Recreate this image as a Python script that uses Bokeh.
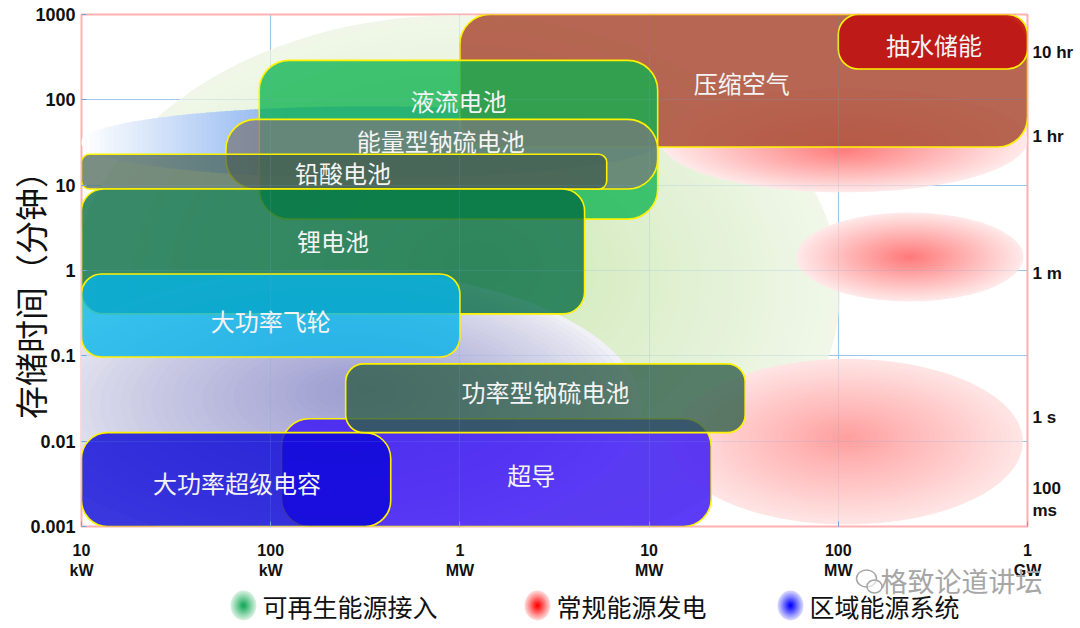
import numpy as np
from bokeh.plotting import figure
from bokeh.models import (Range1d, FixedTicker, CustomJSTickFormatter, LogAxis,
                          Grid, ColumnDataSource)
from bokeh.layouts import column
from bokeh.core.properties import value
from bokeh.embed import file_html
from bokeh.resources import INLINE

# ---------------- data ----------------
techs = ["压缩空气", "抽水储能", "液流电池", "能量型钠硫电池", "铅酸电池",
         "锂电池", "大功率飞轮", "超导", "大功率超级电容", "功率型钠硫电池"]
power_min_kw = [1000, 100000, 87, 58, 10, 10, 10, 114, 10, 249]
power_max_kw = [1e6, 1e6, 11100, 11100, 5970, 4560, 1000, 21300, 431, 32200]
time_min_minutes = [28, 230, 4.0, 9.0, 9.0, 0.31, 0.097, 0.001, 0.001, 0.0126]
time_max_minutes = [1000, 1000, 290, 59, 23, 9.0, 0.91, 0.0183, 0.0126, 0.0805]

# application zones (background blobs): centre and half extents in decades
zone_names = ["可再生能源接入", "区域能源系统", "区域能源系统",
              "常规能源发电", "常规能源发电", "常规能源发电"]
zone_center_kw = [955, 334, 205, 1.07e5, 2.39e5, 1.11e5]
zone_center_min = [0.59, 31.8, 0.0233, 33.6, 1.44, 0.00986]
zone_half_width_dec = [2.03, 1.53, 1.65, 0.97, 0.60, 0.93]
zone_half_height_dec = [3.22, 0.42, 1.64, 0.61, 0.52, 0.97]

legend_labels = ["可再生能源接入", "常规能源发电", "区域能源系统"]

x_tick_values = [10, 100, 1000, 1e4, 1e5, 1e6]
x_tick_labels = ["10\nkW", "100\nkW", "1\nMW", "10\nMW", "100\nMW", "1\nGW"]
y_tick_values = [0.001, 0.01, 0.1, 1, 10, 100, 1000]
y_tick_labels = ["0.001", "0.01", "0.1", "1", "10", "100", "1000"]
right_tick_labels = ["10 hr", "1 hr", "1 m", "1 s", "100\nms"]
right_tick_values = [10**2.556, 10**1.573, 10**-0.041, 10**-1.725, 10**-2.684]

y_axis_title = "存储时间（分钟）"
watermark = "格致论道讲坛"

# ---------------- styles ----------------
CJK = "Noto Sans CJK SC"
rect_colors = ["#AE5540", "#BF1412", "#0BB24E", "#79787C", "#3C5849",
               "#006841", "#05B4E9", "#401AF4", "#0A05D7", "#315F4A"]
rect_alpha = [0.90, 0.92, 0.77, 0.75, 0.68, 0.77, 0.79, 0.85, 0.80, 0.80]
rect_radius = [30, 20, 30, 30, 8, 22, 20, 28, 26, 18]
label_dx = [-2, 1, 0, -1, -1, 0, 0, 35, 1, 0]
label_dy = [2, 3, -39, -14, 1, -11, 5, 2, 3, -7]

zone_style = [
    # kind, edge colour, centre colour, focal fx, fy (fractions of radii), profile exponent
    ("radial", (240, 247, 233), (205, 232, 180), 0.06, 0.10, 1.0),
    ("linear", (255, 255, 255), (140, 180, 240), 0.0, 0.0, 1.0),
    ("radial", (240, 240, 246), (156, 156, 208), 0.12, 0.15, 0.8),
    ("radial", (255, 232, 232), (255, 126, 126), 0.0, -0.2, 1.0),
    ("radial", (255, 232, 232), (255, 122, 122), 0.0, 0.0, 1.0),
    ("radial", (255, 228, 228), (255, 160, 160), 0.0, 0.05, 1.0),
]


def hexc(c):
    return "#%02x%02x%02x" % tuple(int(round(v)) for v in c)


def lerp(a, b, t):
    return tuple(a[i] + (b[i] - a[i]) * t for i in range(3))


p = figure(width=1080, height=582, x_axis_type="log", y_axis_type="log",
           x_range=Range1d(10, 1e6), y_range=Range1d(1e-3, 1e3),
           toolbar_location=None, output_backend="svg", title=None,
           min_border_left=81, min_border_right=53, min_border_top=14,
           min_border_bottom=56)
p.background_fill_color = "white"
p.border_fill_color = "white"
p.outline_line_color = "#FFB0B0"
p.outline_line_width = 2

p.xgrid.ticker = FixedTicker(ticks=[100, 1e3, 1e4, 1e5])
p.ygrid.ticker = FixedTicker(ticks=[0.01, 0.1, 1, 10, 100])
p.grid.grid_line_color = "#A6CDEE"
p.grid.grid_line_width = 1.2

# ---- background zones ----
t = np.linspace(0, 2 * np.pi, 120)
for i in range(len(zone_names)):
    cxl = np.log10(zone_center_kw[i])
    cyl = np.log10(zone_center_min[i])
    rx = zone_half_width_dec[i]
    ry = zone_half_height_dec[i]
    kind, ce, cc, fx, fy, gam = zone_style[i]
    xs, ys, cols = [], [], []
    if kind == "radial":
        n = 34
        for k in range(n):
            s = 1 - k / n
            ccx = cxl + fx * rx * (1 - s)
            ccy = cyl + fy * ry * (1 - s)
            xs.append(list(10 ** (ccx + s * rx * np.cos(t))))
            ys.append(list(10 ** (ccy + s * ry * np.sin(t))))
            cols.append(hexc(lerp(ce, cc, (k / (n - 1)) ** gam)))
    else:
        n = 120
        edges = np.linspace(cxl - rx, cxl + rx, n + 1)
        step = edges[1] - edges[0]
        for k in range(n):
            xa = edges[k]
            xb = min(edges[k + 1] + 0.5 * step, cxl + rx)
            xx = np.linspace(xa, xb, 4)
            h = ry * np.sqrt(np.clip(1 - ((xx - cxl) / rx) ** 2, 0, None))
            px = np.concatenate([xx, xx[::-1]])
            py = np.concatenate([cyl + h, (cyl - h)[::-1]])
            xs.append(list(10 ** px))
            ys.append(list(10 ** py))
            f = min(1.0, (k / (n - 1)) / 0.35)
            cols.append(hexc(lerp(ce, cc, f)))
    p.patches(xs=xs, ys=ys, fill_color=cols, line_color=None)

# faint overlay grid (visible through shapes)
for dim, tk in [(0, [100, 1e3, 1e4, 1e5]), (1, [0.01, 0.1, 1, 10, 100])]:
    g = Grid(dimension=dim, ticker=FixedTicker(ticks=tk), grid_line_color="#6FA8DC",
             grid_line_alpha=0.18, grid_line_width=1, level="overlay")
    p.add_layout(g)

# ---- technology boxes ----
for i in range(len(techs)):
    p.quad(left=[power_min_kw[i]], right=[power_max_kw[i]],
           bottom=[time_min_minutes[i]], top=[time_max_minutes[i]],
           fill_color=rect_colors[i], fill_alpha=rect_alpha[i],
           line_color="#FFF200", line_width=1.6, border_radius=rect_radius[i])

lab_src = ColumnDataSource(dict(
    x=[np.sqrt(a * b) for a, b in zip(power_min_kw, power_max_kw)],
    y=[np.sqrt(a * b) for a, b in zip(time_min_minutes, time_max_minutes)],
    text=techs, dx=label_dx, dy=label_dy))
p.text(x="x", y="y", text="text", x_offset="dx", y_offset="dy", source=lab_src,
       text_font=value(CJK), text_font_size="24px", text_color="#F4F4F4",
       text_align="center", text_baseline="middle")

# ---- axes ----
fmt_code = """
for (let i = 0; i < vals.length; i++) {
  if (Math.abs(Math.log10(tick) - Math.log10(vals[i])) < 1e-4) return labels[i];
}
return '';
"""
p.xaxis.ticker = FixedTicker(ticks=x_tick_values)
p.xaxis.formatter = CustomJSTickFormatter(args=dict(vals=x_tick_values, labels=x_tick_labels), code=fmt_code)
p.yaxis.ticker = FixedTicker(ticks=y_tick_values)
p.yaxis.formatter = CustomJSTickFormatter(args=dict(vals=y_tick_values, labels=y_tick_labels), code=fmt_code)
for ax in (p.xaxis, p.yaxis):
    ax.axis_line_color = None
    ax.minor_tick_line_color = None
    ax.major_tick_in = 5
    ax.major_tick_out = 0
    ax.major_tick_line_color = "#6FA8DC"
    ax.major_label_text_font = "Liberation Sans"
    ax.major_label_text_font_style = "bold"
    ax.major_label_text_color = "#111111"
p.xaxis.major_label_text_font_size = "16px"
p.xaxis.major_label_standoff = 15
p.yaxis.major_label_text_font_size = "18px"
p.yaxis.major_label_standoff = 6
p.yaxis.axis_label = y_axis_title + "\u3000\u2002"
p.yaxis.axis_label_text_font = CJK
p.yaxis.axis_label_text_font_style = "normal"
p.yaxis.axis_label_text_font_size = "33px"
p.yaxis.axis_label_text_color = "#111111"
p.yaxis.axis_label_standoff = -27

ra = LogAxis(ticker=FixedTicker(ticks=right_tick_values),
             formatter=CustomJSTickFormatter(args=dict(vals=right_tick_values, labels=right_tick_labels), code=fmt_code))
ra.axis_line_color = None
ra.major_tick_line_color = None
ra.major_tick_out = 0
ra.major_tick_in = 0
ra.minor_tick_line_color = None
ra.major_label_standoff = 5
ra.major_label_text_font = "Liberation Sans"
ra.major_label_text_font_style = "bold"
ra.major_label_text_font_size = "17px"
ra.major_label_text_color = "#111111"
p.add_layout(ra, "right")

# ---------------- legend strip (overlaps the bottom border, transparent) ----------------
LEG_H = 70
leg = figure(width=1080, height=LEG_H, x_range=Range1d(0, 1080), y_range=Range1d(0, LEG_H),
             toolbar_location=None, output_backend="svg", min_border=0,
             x_axis_location=None, y_axis_location=None, title=None)
leg.frame_align = False
p.frame_align = False
leg.margin = (-24, 0, 0, 0)
leg.grid.visible = False
leg.outline_line_color = None
leg.background_fill_alpha = 0
leg.border_fill_alpha = 0

leg_cx = [243, 537, 790]
leg_y = 23
leg_center_col = [(20, 168, 88), (255, 0, 0), (0, 0, 255)]
leg_edge_col = [(214, 240, 222), (255, 216, 216), (214, 214, 255)]
for j in range(len(legend_labels)):
    n = 14
    ws, hs, cs = [], [], []
    for k in range(n):
        s = 1 - k / n
        ws.append(26 * s)
        hs.append(30 * s)
        cs.append(hexc(lerp(leg_edge_col[j], leg_center_col[j], k / (n - 1))))
    leg.ellipse(x=[leg_cx[j]] * n, y=[leg_y] * n, width=ws, height=hs,
                width_units="screen", height_units="screen",
                fill_color=cs, line_color=None)
leg.text(x=[c + 19 for c in leg_cx], y=[leg_y] * 3, text=legend_labels,
         text_font=value(CJK), text_font_size="25px", text_color="#111111",
         text_align="left", text_baseline="middle")

# watermark (speech-bubble icon + text)
leg.ellipse(x=[866, 874], y=[50, 42], width=[20, 15], height=[17, 13],
            width_units="screen", height_units="screen",
            fill_color="white", fill_alpha=0.6, line_color="#A6A6A6", line_width=1.5)
leg.text(x=[880], y=[48], text=[watermark], text_font=value(CJK),
         text_font_size="27px", text_color="#A6A6A6", text_align="left",
         text_baseline="middle")

layout = column(p, leg, spacing=0)
open("out.html", "w").write(file_html(layout, INLINE))
